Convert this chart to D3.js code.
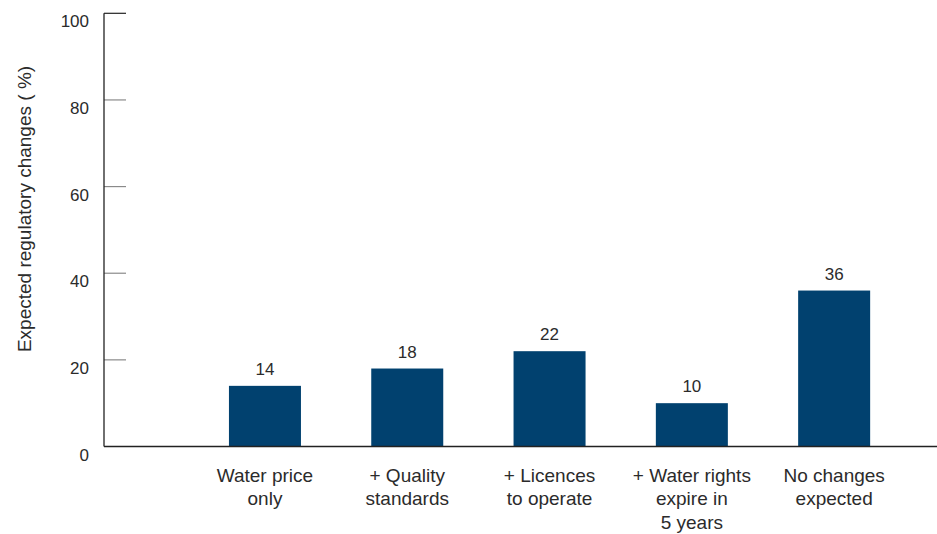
<!DOCTYPE html>
<html>
<head>
<meta charset="utf-8">
<script src="https://cdn.jsdelivr.net/npm/d3@7"></script>
<style>
  html, body { margin: 0; padding: 0; background: #fff; }
  svg { display: block; font-family: "Liberation Sans", Arial, Helvetica, sans-serif; }
</style>
</head>
<body>
<svg id="chart" width="937" height="534"></svg>
<script>
// Share of respondents expecting each regulatory change
const categories = [
  ["Water price", "only"],
  ["+ Quality", "standards"],
  ["+ Licences", "to operate"],
  ["+ Water rights", "expire in", "5 years"],
  ["No changes", "expected"]
];
const values = [14, 18, 22, 10, 36];
const yTicks = [0, 20, 40, 60, 80, 100];
const yTitle = "Expected regulatory changes ( %)";

const svg = d3.select("#chart");
const W = 937;
const axisX = 104;
const textColor = "#2b2b2b";
const barColor = "#01416f";

const y = d3.scaleLinear().domain([0, 100]).range([446.5, 13.3]);

const x = d3.scaleBand()
  .domain(d3.range(categories.length))
  .range([193.8, 905.3])
  .paddingInner(0.494)
  .paddingOuter(0.247);

// Short ticks extending right from the vertical axis
svg.append("g")
  .selectAll("line")
  .data(yTicks.filter(d => d > 0))
  .join("line")
  .attr("x1", axisX).attr("x2", axisX + 22)
  .attr("y1", d => y(d)).attr("y2", d => y(d))
  .attr("stroke", d => d === 100 ? "#222" : "#8a8a8a")
  .attr("stroke-width", 1.2);

// Tick labels, set a little below each tick
svg.append("g")
  .selectAll("text")
  .data(yTicks)
  .join("text")
  .attr("x", 89)
  .attr("y", d => y(d) + 14)
  .attr("text-anchor", "end")
  .attr("font-size", 17)
  .attr("fill", textColor)
  .text(d => d);

// Bars
svg.append("g")
  .selectAll("rect")
  .data(values)
  .join("rect")
  .attr("x", (d, i) => x(i))
  .attr("width", x.bandwidth())
  .attr("y", d => y(d))
  .attr("height", d => y(0) - y(d))
  .attr("fill", barColor);

// Value labels above the bars
svg.append("g")
  .selectAll("text")
  .data(values)
  .join("text")
  .attr("x", (d, i) => x(i) + x.bandwidth() / 2)
  .attr("y", d => y(d) - 11)
  .attr("text-anchor", "middle")
  .attr("font-size", 17)
  .attr("fill", textColor)
  .text(d => d);

// Axis lines
svg.append("line")
  .attr("x1", axisX).attr("x2", axisX)
  .attr("y1", y(100)).attr("y2", y(0))
  .attr("stroke", "#222").attr("stroke-width", 1.3);
svg.append("line")
  .attr("x1", axisX).attr("x2", W)
  .attr("y1", y(0)).attr("y2", y(0))
  .attr("stroke", "#222").attr("stroke-width", 1.3);

// Category labels, wrapped over several lines
const cat = svg.append("g")
  .selectAll("text")
  .data(categories)
  .join("text")
  .attr("text-anchor", "middle")
  .attr("font-size", 19)
  .attr("fill", textColor)
  .attr("transform", (d, i) => `translate(${x(i) + x.bandwidth() / 2},${y(0) + 35.2})`);
cat.selectAll("tspan")
  .data(d => d)
  .join("tspan")
  .attr("x", 0)
  .attr("y", (d, j) => j * 23.8)
  .text(d => d);

// Y axis title
svg.append("text")
  .attr("transform", "translate(30.5,209) rotate(-90)")
  .attr("text-anchor", "middle")
  .attr("font-size", 19)
  .attr("fill", textColor)
  .text(yTitle);
</script>
</body>
</html>
